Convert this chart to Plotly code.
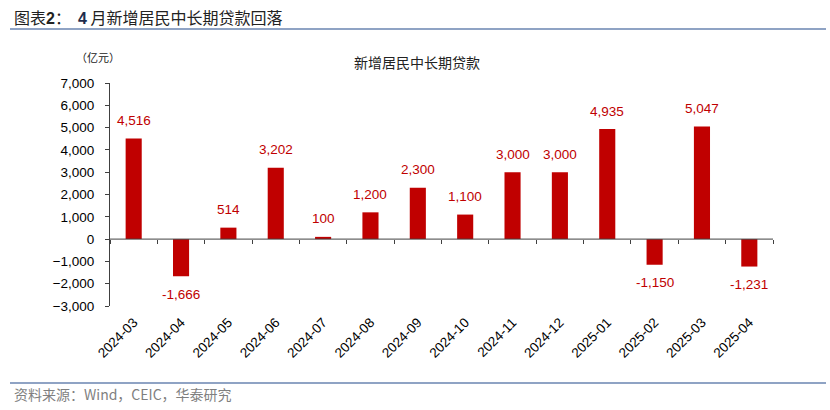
import plotly.graph_objects as go

months = ["2024-03", "2024-04", "2024-05", "2024-06", "2024-07", "2024-08", "2024-09",
          "2024-10", "2024-11", "2024-12", "2025-01", "2025-02", "2025-03", "2025-04"]
loans = [4516, -1666, 514, 3202, 100, 1200, 2300, 1100, 3000, 3000, 4935, -1150, 5047, -1231]
y_ticks = [-3000, -2000, -1000, 0, 1000, 2000, 3000, 4000, 5000, 6000, 7000]

RED = "#C00000"
NUM_FONT = "Liberation Sans, Arial, sans-serif"
CJK_FONT = "Noto Sans CJK SC, sans-serif"
LINE_BLUE = "#6A84B0"

fig = go.Figure()
fig.add_trace(go.Bar(x=months, y=loans, marker_color=RED, marker_line_width=0,
                     hoverinfo="x+y", showlegend=False))
# zero-line axis carrier
fig.add_trace(go.Scatter(x=[-0.5, 13.5], y=[0, 0], xaxis="x2", mode="lines",
                         line=dict(color="#404040", width=1), hoverinfo="skip",
                         showlegend=False))

for m, v in zip(months, loans):
    fig.add_annotation(x=m, y=v, text=f"{v:,}", showarrow=False,
                       yshift=18 if v >= 0 else -18,
                       font=dict(family=NUM_FONT, size=13.5, color=RED))

fig.update_layout(
    width=830, height=410,
    margin=dict(l=110, r=57, t=83, b=104),
    paper_bgcolor="white", plot_bgcolor="white",
    bargap=0.66,
    xaxis=dict(type="category", categoryarray=months, range=[-0.5, 13.5],
               showline=False, ticks="", tickangle=-45, ticklabelstandoff=5,
               tickfont=dict(family=NUM_FONT, size=13.5, color="#000000"),
               showgrid=False, zeroline=False),
    xaxis2=dict(overlaying="x", anchor="free", position=0.3, range=[-0.5, 13.5],
                showline=False, ticks="outside", ticklen=4, tickcolor="#404040",
                tick0=0.5, dtick=1, showticklabels=False, showgrid=False,
                zeroline=False),
    yaxis=dict(range=[-3000, 7000], tickvals=y_ticks, tickformat=",",
               showline=True, linecolor="#404040", linewidth=1,
               ticks="outside", ticklen=4, tickcolor="#404040",
               ticklabelstandoff=8,
               tickfont=dict(family=NUM_FONT, size=13.5, color="#000000"),
               showgrid=False, zeroline=False),
)

# header title
fig.add_annotation(xref="paper", yref="paper", x=-98/663, y=1 + 66/223,
                   xanchor="left", yanchor="middle", showarrow=False,
                   text="<span style='font-family:Noto Sans CJK SC'>图表</span>"
                        "<b style='font-family:Liberation Sans'>2</b>"
                        "<span style='font-family:Noto Sans CJK SC'>：  </span>"
                        "<b style='font-family:Liberation Sans;color:#1F2D4D'>4</b>"
                        "<span style='font-family:Noto Sans CJK SC'> 月新增居民中长期贷款回落</span>",
                   font=dict(size=16, color="#222222"))
# chart title
fig.add_annotation(xref="paper", yref="paper", x=(417 - 110) / 663, y=1 + 21/223,
                   xanchor="center", yanchor="middle", showarrow=False,
                   text="新增居民中长期贷款",
                   font=dict(family=CJK_FONT, size=14, color="#222222"))
# unit
fig.add_annotation(xref="paper", yref="paper", x=(98 - 110) / 663, y=1 + 26/223,
                   xanchor="center", yanchor="middle", showarrow=False,
                   text="（亿元）",
                   font=dict(family=CJK_FONT, size=11, color="#222222"))
# source
fig.add_annotation(xref="paper", yref="paper", x=-98/663, y=-(394 - 306)/223,
                   xanchor="left", yanchor="middle", showarrow=False,
                   text="资料来源：Wind，CEIC，华泰研究",
                   font=dict(family=CJK_FONT, size=14, color="#7F7F7F"))

# header / footer rules
fig.add_shape(type="line", xref="paper", yref="paper",
              x0=-100/663, x1=(826 - 110)/663, y0=1 + (83 - 29)/223, y1=1 + (83 - 29)/223,
              line=dict(color=LINE_BLUE, width=1.5))
fig.add_shape(type="line", xref="paper", yref="paper",
              x0=-100/663, x1=(826 - 110)/663, y0=-(383 - 306)/223, y1=-(383 - 306)/223,
              line=dict(color=LINE_BLUE, width=1.5))

fig.write_html("out.html", config={"displayModeBar": False},
               post_script="document.body.style.margin='0';document.body.style.overflow='hidden';")
